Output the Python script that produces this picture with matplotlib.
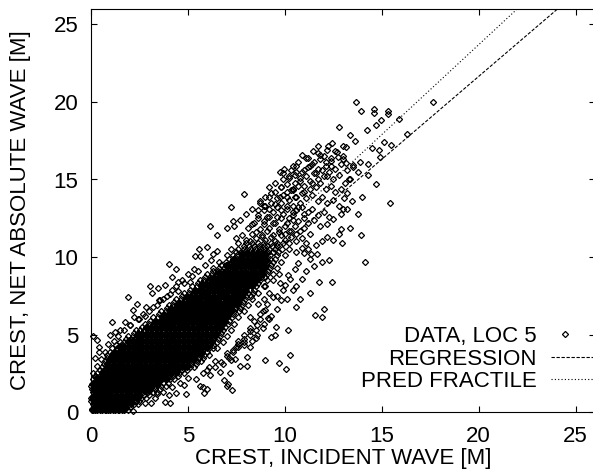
import matplotlib
matplotlib.use("Agg")
import matplotlib.pyplot as plt

plt.rcParams['font.family'] = ['Liberation Sans', 'DejaVu Sans']

# dense core of the cloud
core_y = [0.1, 0.5, 0.9, 1.3, 1.7, 2.1, 2.5, 2.9, 3.3, 3.7, 4.1, 4.5, 4.9, 5.3,
          5.7, 6.1, 6.5, 6.9, 7.3, 7.7, 8.1, 8.5, 8.9, 9.3, 9.7, 10.1, 10.5, 10.9]
core_x = [
    [0.05, 0.2, 0.45, 0.7, 0.9, 1.15, 1.4, 1.6, 1.9],
    [0.1, 0.3, 0.5, 0.75, 1.0, 1.2, 1.45, 1.7, 1.95, 2.2, 2.4],
    [0.0, 0.25, 0.5, 0.7, 0.95, 1.2, 1.4, 1.65, 1.9, 2.1, 2.35, 2.6, 2.85],
    [0.1, 0.35, 0.55, 0.8, 1.05, 1.25, 1.5, 1.75, 1.95, 2.2, 2.45, 2.7, 2.95, 3.2, 3.4],
    [0.0, 0.25, 0.45, 0.7, 0.95, 1.2, 1.4, 1.65, 1.9, 2.15, 2.35, 2.6, 2.85, 3.1, 3.3, 3.6, 3.85],
    [0.1, 0.35, 0.6, 0.8, 1.05, 1.3, 1.5, 1.75, 2.0, 2.25, 2.45, 2.7, 2.95, 3.2, 3.4, 3.65, 3.9, 4.1, 4.3],
    [0.3, 0.55, 0.75, 1.0, 1.25, 1.45, 1.7, 1.95, 2.2, 2.4, 2.65, 2.9, 3.15, 3.35, 3.6, 3.85, 4.1, 4.3, 4.55, 4.8],
    [0.55, 0.8, 1.05, 1.3, 1.5, 1.75, 2.0, 2.25, 2.45, 2.7, 2.95, 3.2, 3.4, 3.65, 3.9, 4.15, 4.35, 4.6, 4.85, 5.1, 5.3],
    [0.7, 0.95, 1.2, 1.4, 1.65, 1.9, 2.15, 2.35, 2.6, 2.85, 3.1, 3.3, 3.55, 3.8, 4.05, 4.25, 4.5, 4.75, 5.0, 5.2, 5.45, 5.7],
    [0.85, 1.1, 1.35, 1.55, 1.8, 2.05, 2.3, 2.5, 2.75, 3.0, 3.25, 3.45, 3.7, 3.95, 4.2, 4.4, 4.65, 4.9, 5.15, 5.35, 5.6, 5.85, 6.1],
    [1.1, 1.35, 1.6, 1.8, 2.05, 2.3, 2.55, 2.75, 3.0, 3.25, 3.5, 3.7, 3.95, 4.2, 4.45, 4.65, 4.9, 5.15, 5.4, 5.6, 5.85, 6.1, 6.3, 6.5],
    [1.5, 1.7, 1.95, 2.2, 2.45, 2.65, 2.9, 3.15, 3.4, 3.6, 3.85, 4.1, 4.35, 4.55, 4.8, 5.05, 5.3, 5.5, 5.75, 6.0, 6.25, 6.5, 6.8],
    [1.9, 2.15, 2.35, 2.6, 2.85, 3.1, 3.3, 3.55, 3.8, 4.05, 4.25, 4.5, 4.75, 5.0, 5.2, 5.45, 5.7, 5.95, 6.15, 6.4, 6.65, 7.0],
    [2.3, 2.55, 2.75, 3.0, 3.25, 3.5, 3.7, 3.95, 4.2, 4.45, 4.65, 4.9, 5.15, 5.4, 5.6, 5.85, 6.1, 6.35, 6.55, 6.8, 7.2],
    [2.8, 3.0, 3.25, 3.5, 3.75, 3.95, 4.2, 4.45, 4.7, 4.9, 5.15, 5.4, 5.65, 5.85, 6.1, 6.35, 6.6, 6.8, 7.05, 7.4],
    [3.2, 3.45, 3.65, 3.9, 4.15, 4.4, 4.6, 4.85, 5.1, 5.35, 5.55, 5.8, 6.05, 6.3, 6.5, 6.75, 7.0, 7.25, 7.6],
    [3.6, 3.85, 4.05, 4.3, 4.55, 4.8, 5.0, 5.25, 5.5, 5.75, 5.95, 6.2, 6.45, 6.7, 6.9, 7.15, 7.4, 7.65, 7.9],
    [4.0, 4.25, 4.5, 4.7, 4.95, 5.2, 5.45, 5.65, 5.9, 6.15, 6.4, 6.6, 6.85, 7.1, 7.35, 7.55, 7.8, 8.1],
    [4.4, 4.65, 4.85, 5.1, 5.35, 5.6, 5.8, 6.05, 6.3, 6.55, 6.75, 7.0, 7.25, 7.5, 7.7, 7.95, 8.3],
    [4.8, 5.05, 5.25, 5.5, 5.75, 6.0, 6.2, 6.45, 6.7, 6.95, 7.15, 7.4, 7.65, 7.9, 8.1, 8.35, 8.6],
    [5.2, 5.45, 5.65, 5.9, 6.15, 6.4, 6.6, 6.85, 7.1, 7.35, 7.55, 7.8, 8.05, 8.3, 8.5, 8.9],
    [5.6, 5.85, 6.05, 6.3, 6.55, 6.8, 7.0, 7.25, 7.5, 7.75, 7.95, 8.2, 8.45, 8.7, 9.1],
    [6.0, 6.25, 6.45, 6.7, 6.95, 7.2, 7.4, 7.65, 7.9, 8.15, 8.35, 8.6, 8.85, 9.1, 9.4],
    [6.3, 6.6, 6.85, 7.05, 7.3, 7.55, 7.8, 8.0, 8.25, 8.5, 8.75, 8.95, 9.25, 9.6],
    [6.6, 6.95, 7.2, 7.4, 7.65, 7.9, 8.15, 8.35, 8.6, 8.85, 9.1, 9.4, 9.8],
    [7.0, 7.3, 7.55, 7.8, 8.05, 8.3, 8.5, 8.75, 9.0, 9.25, 9.6, 10.0],
    [7.2, 7.6, 7.9, 8.2, 8.45, 8.7, 8.95, 9.2, 9.5, 9.85, 10.2],
    [7.6, 8.0, 8.3, 8.6, 8.95, 9.3, 9.6, 9.9, 10.2],
]

# same core, the rows in between
core2_y = [0.3, 0.7, 1.1, 1.5, 1.9, 2.3, 2.7, 3.1, 3.5, 3.9, 4.3, 4.7, 5.1, 5.5,
           5.9, 6.3, 6.7, 7.1, 7.5, 7.9, 8.3, 8.7, 9.1, 9.5, 9.9, 10.3, 10.7]
core2_x = [
    [0.15, 0.35, 0.6, 0.8, 1.05, 1.3, 1.5, 1.75, 2.0],
    [0.0, 0.2, 0.4, 0.65, 0.85, 1.1, 1.35, 1.55, 1.8, 2.05, 2.3, 2.5],
    [0.15, 0.4, 0.6, 0.85, 1.1, 1.3, 1.55, 1.8, 2.0, 2.25, 2.5, 2.75, 3.0],
    [0.05, 0.25, 0.45, 0.7, 0.95, 1.15, 1.4, 1.65, 1.85, 2.1, 2.35, 2.6, 2.8, 3.05, 3.3, 3.55],
    [0.15, 0.35, 0.6, 0.85, 1.05, 1.3, 1.55, 1.8, 2.0, 2.25, 2.5, 2.75, 2.95, 3.2, 3.45, 3.7, 3.95],
    [0.2, 0.45, 0.7, 0.95, 1.15, 1.4, 1.65, 1.9, 2.1, 2.35, 2.6, 2.85, 3.05, 3.3, 3.55, 3.8, 4.0, 4.25, 4.5],
    [0.45, 0.65, 0.9, 1.15, 1.4, 1.6, 1.85, 2.1, 2.35, 2.55, 2.8, 3.05, 3.3, 3.5, 3.75, 4.0, 4.25, 4.45, 4.7, 4.95],
    [0.65, 0.85, 1.1, 1.35, 1.6, 1.8, 2.05, 2.3, 2.55, 2.75, 3.0, 3.25, 3.5, 3.7, 3.95, 4.2, 4.45, 4.65, 4.9, 5.15, 5.4],
    [0.8, 1.05, 1.3, 1.5, 1.75, 2.0, 2.25, 2.45, 2.7, 2.95, 3.2, 3.4, 3.65, 3.9, 4.15, 4.35, 4.6, 4.85, 5.1, 5.3, 5.55, 5.8],
    [1.0, 1.25, 1.45, 1.7, 1.95, 2.2, 2.4, 2.65, 2.9, 3.15, 3.35, 3.6, 3.85, 4.1, 4.3, 4.55, 4.8, 5.05, 5.25, 5.5, 5.75, 6.0],
    [1.3, 1.55, 1.75, 2.0, 2.25, 2.5, 2.7, 2.95, 3.2, 3.45, 3.65, 3.9, 4.15, 4.4, 4.6, 4.85, 5.1, 5.35, 5.55, 5.8, 6.05, 6.3],
    [1.8, 2.05, 2.25, 2.5, 2.75, 3.0, 3.2, 3.45, 3.7, 3.95, 4.15, 4.4, 4.65, 4.9, 5.1, 5.35, 5.6, 5.85, 6.05, 6.3, 6.55],
    [2.2, 2.45, 2.65, 2.9, 3.15, 3.4, 3.6, 3.85, 4.1, 4.35, 4.55, 4.8, 5.05, 5.3, 5.5, 5.75, 6.0, 6.25, 6.45, 6.7],
    [2.65, 2.85, 3.1, 3.35, 3.6, 3.8, 4.05, 4.3, 4.55, 4.75, 5.0, 5.25, 5.5, 5.7, 5.95, 6.2, 6.45, 6.65, 6.9],
    [3.05, 3.3, 3.55, 3.75, 4.0, 4.25, 4.5, 4.7, 4.95, 5.2, 5.45, 5.65, 5.9, 6.15, 6.4, 6.6, 6.85, 7.1],
    [3.5, 3.75, 3.95, 4.2, 4.45, 4.7, 4.9, 5.15, 5.4, 5.65, 5.85, 6.1, 6.35, 6.6, 6.8, 7.05, 7.3],
    [3.9, 4.15, 4.35, 4.6, 4.85, 5.1, 5.3, 5.55, 5.8, 6.05, 6.25, 6.5, 6.75, 7.0, 7.2, 7.45, 7.7],
    [4.3, 4.55, 4.75, 5.0, 5.25, 5.5, 5.7, 5.95, 6.2, 6.45, 6.65, 6.9, 7.15, 7.4, 7.6, 7.85],
    [4.7, 4.95, 5.15, 5.4, 5.65, 5.9, 6.1, 6.35, 6.6, 6.85, 7.05, 7.3, 7.55, 7.8, 8.0, 8.25],
    [5.1, 5.35, 5.55, 5.8, 6.05, 6.3, 6.5, 6.75, 7.0, 7.25, 7.45, 7.7, 7.95, 8.2, 8.4],
    [5.5, 5.75, 5.95, 6.2, 6.45, 6.7, 6.9, 7.15, 7.4, 7.65, 7.85, 8.1, 8.35, 8.6],
    [5.9, 6.15, 6.35, 6.6, 6.85, 7.1, 7.3, 7.55, 7.8, 8.05, 8.25, 8.5, 8.75, 9.0],
    [6.3, 6.55, 6.75, 7.0, 7.25, 7.5, 7.7, 7.95, 8.2, 8.45, 8.65, 8.9, 9.15],
    [6.7, 6.95, 7.15, 7.4, 7.65, 7.9, 8.1, 8.35, 8.6, 8.85, 9.05, 9.3],
    [7.1, 7.35, 7.55, 7.8, 8.05, 8.3, 8.5, 8.75, 9.0, 9.25, 9.5],
    [7.5, 7.75, 7.95, 8.2, 8.45, 8.7, 8.9, 9.15, 9.4, 9.65],
    [7.9, 8.15, 8.4, 8.65, 8.9, 9.1, 9.35, 9.6],
]

# black middle of the core, more rows
core3_y = [0.2, 0.6, 1.0, 1.4, 1.8, 2.2, 2.6, 3.0, 3.4, 3.8, 4.2, 4.6, 5.0, 5.4,
           5.8, 6.2, 6.6, 7.0, 7.4, 7.8, 8.2, 8.6, 9.0, 9.4, 9.8, 10.2]
core3_x = [
    [0.1, 0.3, 0.55, 0.75, 1.0, 1.25, 1.45, 1.7],
    [0.2, 0.4, 0.6, 0.9, 1.1, 1.3, 1.6, 1.8, 2.05],
    [0.1, 0.3, 0.6, 0.8, 1.05, 1.3, 1.5, 1.75, 2.0, 2.2, 2.45],
    [0.2, 0.45, 0.65, 0.9, 1.1, 1.35, 1.6, 1.85, 2.05, 2.3, 2.55, 2.8, 3.0],
    [0.1, 0.35, 0.55, 0.75, 1.0, 1.25, 1.5, 1.7, 1.95, 2.2, 2.45, 2.65, 2.9, 3.15, 3.4],
    [0.3, 0.5, 0.75, 1.0, 1.2, 1.45, 1.7, 1.95, 2.15, 2.4, 2.65, 2.9, 3.1, 3.35, 3.6, 3.85],
    [0.6, 0.85, 1.1, 1.3, 1.55, 1.8, 2.05, 2.25, 2.5, 2.75, 3.0, 3.2, 3.45, 3.7, 3.95, 4.15, 4.4],
    [0.9, 1.15, 1.4, 1.6, 1.85, 2.1, 2.35, 2.55, 2.8, 3.05, 3.3, 3.5, 3.75, 4.0, 4.25, 4.45, 4.7, 4.95],
    [1.0, 1.25, 1.45, 1.7, 1.95, 2.2, 2.4, 2.65, 2.9, 3.15, 3.35, 3.6, 3.85, 4.1, 4.3, 4.55, 4.8, 5.05, 5.3],
    [1.2, 1.45, 1.65, 1.9, 2.15, 2.4, 2.6, 2.85, 3.1, 3.35, 3.55, 3.8, 4.05, 4.3, 4.5, 4.75, 5.0, 5.25, 5.45, 5.7],
    [1.5, 1.7, 1.95, 2.2, 2.45, 2.65, 2.9, 3.15, 3.4, 3.6, 3.85, 4.1, 4.35, 4.55, 4.8, 5.05, 5.3, 5.5, 5.75, 6.0],
    [1.95, 2.15, 2.4, 2.65, 2.9, 3.1, 3.35, 3.6, 3.85, 4.05, 4.3, 4.55, 4.8, 5.0, 5.25, 5.5, 5.75, 5.95, 6.2],
    [2.4, 2.6, 2.85, 3.1, 3.35, 3.55, 3.8, 4.05, 4.3, 4.5, 4.75, 5.0, 5.25, 5.45, 5.7, 5.95, 6.2, 6.4],
    [2.9, 3.1, 3.35, 3.6, 3.85, 4.05, 4.3, 4.55, 4.8, 5.0, 5.25, 5.5, 5.75, 5.95, 6.2, 6.45, 6.65],
    [3.3, 3.55, 3.75, 4.0, 4.25, 4.5, 4.7, 4.95, 5.2, 5.45, 5.65, 5.9, 6.15, 6.4, 6.6, 6.85],
    [3.7, 3.95, 4.15, 4.4, 4.65, 4.9, 5.1, 5.35, 5.6, 5.85, 6.05, 6.3, 6.55, 6.8, 7.0],
    [4.1, 4.35, 4.55, 4.8, 5.05, 5.3, 5.5, 5.75, 6.0, 6.25, 6.45, 6.7, 6.95, 7.2],
    [4.5, 4.75, 4.95, 5.2, 5.45, 5.7, 5.9, 6.15, 6.4, 6.65, 6.85, 7.1, 7.35, 7.55],
    [4.95, 5.15, 5.4, 5.65, 5.9, 6.1, 6.35, 6.6, 6.85, 7.05, 7.3, 7.55, 7.75],
    [5.35, 5.6, 5.8, 6.05, 6.3, 6.55, 6.75, 7.0, 7.25, 7.5, 7.7, 7.95],
    [5.75, 6.0, 6.2, 6.45, 6.7, 6.95, 7.15, 7.4, 7.65, 7.9, 8.1, 8.3],
    [6.2, 6.4, 6.65, 6.9, 7.15, 7.35, 7.6, 7.85, 8.1, 8.3, 8.55],
    [6.6, 6.85, 7.05, 7.3, 7.55, 7.8, 8.0, 8.25, 8.5, 8.75],
    [7.0, 7.25, 7.45, 7.7, 7.95, 8.2, 8.4, 8.65, 8.9],
    [7.4, 7.65, 7.85, 8.1, 8.35, 8.6, 8.8, 9.05],
    [7.8, 8.05, 8.3, 8.55, 8.75, 9.0],
]

# scattered points around the core
edge_x = [0.12, 0.33, 0.41, 1.07, 0.98, 1.24, 1.5, 1.75, 1.92, 2.18, 2.39, 2.23, 2.85,
          4.0, 4.36, 3.8, 3.03, 3.46, 3.17, 3.56, 4.2, 4.2, 4.5, 5.57, 6.0, 5.36, 6.3, 5.62, 5.3, 5.1,
          2.18, 2.78, 3.1, 3.4, 3.81, 4.07, 4.0, 4.4, 4.9, 4.8, 5.79, 5.83, 6.0, 5.6, 6.14, 5.96,
          6.65, 7.17, 6.85, 7.07, 7.25, 7.0, 7.42, 7.68, 8.07, 8.03, 7.2, 7.0, 7.5,
          9.0, 9.7, 10.05, 10.26, 10.17, 9.27, 9.5, 9.53, 8.88, 8.28, 8.54, 8.2, 8.54, 9.11, 9.57,
          8.85, 9.4, 9.8, 10.1, 10.58, 8.2, 9.1, 9.75, 10.17, 10.6, 10.4, 10.25,
          11.55, 11.91, 12.0, 11.32, 11.75, 12.42, 10.8, 10.9, 11.94, 12.29, 11.68, 11.36, 10.98,
          12.97, 14.16, 10.5, 10.7, 11.1, 11.3, 11.5, 10.6, 10.9, 11.2, 11.6, 11.9, 12.2, 12.5, 12.8,
          0.1, 0.3, 0.2, 0.5, 0.7, 0.4, 0.9, 1.2, 1.4, 1.7, 2.0, 2.5, 2.8, 3.2, 3.5, 3.9, 4.4, 4.7, 5.0,
          8.7, 9.0, 9.3, 8.6, 8.9, 9.2, 9.6, 9.9, 10.0, 9.0, 9.4, 9.7, 8.4, 8.7, 7.9, 8.2, 7.6, 7.9,
          2.0, 2.4, 2.7, 3.0, 3.4, 3.7, 4.1, 4.5, 4.8, 5.2, 5.5, 5.9, 6.2, 6.5,
          3.3, 3.7, 4.2, 4.6, 5.0, 5.4, 5.8, 6.1, 6.4, 6.8, 7.1, 7.3, 7.6, 7.9, 8.2, 8.5,
          6.4, 6.7, 7.0, 7.3, 7.6, 7.9, 8.2, 8.5, 8.9, 9.2]
edge_y = [4.92, 4.64, 3.9, 5.83, 5.0, 5.18, 5.29, 5.78, 7.44, 6.58, 7.0, 6.1, 6.8,
          9.55, 9.2, 8.2, 8.1, 8.0, 7.7, 7.2, 8.7, 7.9, 8.4, 10.5, 10.66, 10.06, 10.2, 10.06, 9.2, 8.4,
          0.09, 0.56, 0.56, 1.14, 0.62, 0.56, 1.1, 1.2, 1.15, 1.74, 1.63, 1.25, 1.5, 1.68, 2.4, 2.7,
          2.6, 2.5, 2.07, 1.8, 1.4, 1.65, 3.45, 3.0, 3.0, 3.55, 3.35, 3.8, 4.2,
          3.35, 3.15, 2.75, 3.7, 5.3, 4.85, 5.0, 5.5, 5.45, 4.55, 4.95, 5.4, 5.6, 6.05, 6.65,
          6.5, 7.44, 7.2, 7.3, 6.8, 6.15, 7.0, 8.3, 8.85, 8.1, 7.9, 8.6,
          6.26, 6.1, 6.64, 7.7, 8.36, 8.41, 7.27, 8.56, 9.68, 9.83, 10.17, 10.22, 10.23,
          10.92, 9.68, 9.2, 9.6, 9.1, 9.9, 9.4, 10.3, 10.6, 10.5, 10.8, 11.0, 11.3, 11.1, 11.5,
          2.5, 3.0, 3.5, 3.4, 3.9, 4.2, 4.4, 4.6, 4.9, 5.3, 5.6, 6.0, 6.2, 6.8, 7.2, 7.5, 8.1, 8.5, 8.9,
          6.3, 6.6, 6.2, 7.0, 7.3, 7.7, 7.5, 7.9, 8.2, 8.1, 8.5, 8.9, 5.9, 6.0, 5.0, 5.2, 4.6, 4.3,
          5.6, 6.0, 6.3, 6.5, 6.9, 7.3, 7.6, 7.8, 8.3, 8.8, 9.1, 9.5, 9.8, 10.4,
          0.9, 1.3, 1.6, 1.9, 2.2, 2.1, 2.5, 2.9, 3.3, 3.1, 3.5, 4.0, 4.4, 4.7, 4.2, 4.8,
          2.9, 3.2, 3.6, 3.9, 4.2, 4.5, 5.0, 5.3, 5.7, 6.0]

# upper arm of the cloud
arm_x = [6.13, 6.5, 7.0, 7.3, 7.9, 7.2, 8.7, 9.2, 9.75, 10.1, 10.4, 9.74, 9.95, 10.3, 10.55,
         7.5, 7.8, 8.0, 8.3, 8.5, 8.8, 9.0, 9.3, 9.5, 9.8, 10.0, 10.3, 10.6, 10.9, 11.1,
         7.4, 7.7, 8.1, 8.4, 8.7, 8.9, 9.2, 9.4, 9.7, 10.0, 10.2, 10.5, 10.8, 11.0, 11.3,
         8.0, 8.3, 8.6, 8.9, 9.1, 9.4, 9.6, 9.9, 10.2, 10.4, 10.7, 11.0, 11.2, 11.5, 11.8,
         8.7, 9.0, 9.3, 9.6, 9.8, 10.1, 10.4, 10.6, 10.9, 11.2, 11.4, 11.7, 12.0, 12.3,
         9.2, 9.5, 9.8, 10.1, 10.3, 10.6, 10.9, 11.1, 11.4, 11.7, 11.9, 12.2, 12.5, 12.8,
         9.9, 10.2, 10.5, 10.8, 11.0, 11.3, 11.6, 11.8, 12.1, 12.4, 12.6, 12.9, 13.2,
         10.6, 10.9, 11.2, 11.5, 11.7, 12.0, 12.3, 12.5, 12.8, 13.1, 13.3,
         11.1, 11.4, 11.8, 12.1, 12.4, 12.6, 12.9, 13.2, 13.5,
         11.7, 12.0, 12.2, 12.4, 12.7, 13.0,
         8.2, 8.5, 8.8, 9.1, 9.4, 9.7, 10.0, 10.3, 10.6, 8.3, 8.6, 8.9, 9.2, 9.5, 9.8, 10.1, 10.4,
         8.6, 8.9, 9.2, 9.5, 9.8, 10.1, 10.4, 10.7, 11.0, 9.0, 9.3, 9.6, 9.9, 10.2, 10.5, 10.8,
         9.5, 9.8, 10.1, 10.4, 10.7, 11.0, 11.3, 9.9, 10.2, 10.5, 10.8, 11.1, 11.4, 11.7,
         10.4, 10.7, 11.0, 11.3, 11.6, 11.9, 12.2, 10.9, 11.2, 11.5, 11.8, 12.1, 12.4]
arm_y = [12.0, 11.4, 11.9, 12.3, 14.06, 13.2, 13.5, 13.85, 13.85, 14.2, 14.4, 15.5, 15.65, 15.6, 15.5,
         11.2, 11.4, 11.1, 11.5, 11.2, 11.4, 11.1, 11.3, 11.0, 11.4, 11.1, 11.3, 11.0, 11.2, 10.9,
         12.0, 12.4, 11.9, 12.2, 11.8, 12.1, 11.9, 12.2, 11.8, 12.0, 11.7, 12.0, 11.7, 11.9, 11.5,
         12.8, 13.1, 12.7, 13.0, 12.6, 12.9, 12.6, 12.8, 12.5, 12.7, 12.3, 12.5, 12.2, 12.4, 12.0,
         13.6, 13.3, 13.5, 13.2, 13.5, 13.1, 13.3, 13.0, 13.2, 12.9, 13.1, 12.7, 12.9, 12.6,
         14.5, 14.2, 14.5, 13.9, 14.3, 13.9, 14.1, 13.8, 14.0, 13.6, 13.9, 13.5, 13.7, 13.3,
         15.0, 15.2, 14.8, 15.1, 14.6, 14.9, 14.5, 14.8, 14.4, 14.6, 14.2, 14.4, 14.1,
         15.9, 15.5, 15.8, 15.4, 15.7, 15.2, 15.5, 15.0, 15.3, 14.8, 15.0,
         16.4, 16.0, 16.3, 15.9, 16.2, 15.7, 16.0, 15.6, 15.8,
         16.7, 16.5, 16.9, 16.4, 16.8, 16.3,
         11.0, 11.6, 11.3, 11.7, 11.4, 11.6, 11.5, 11.7, 11.5, 12.1, 12.5, 12.3, 12.6, 12.2, 12.5, 12.2, 12.4,
         13.0, 13.3, 13.1, 13.4, 13.0, 13.3, 12.9, 13.2, 12.8, 13.9, 14.1, 13.8, 14.0, 13.7, 13.9, 13.5,
         14.8, 14.5, 14.7, 14.3, 14.6, 14.2, 14.4, 15.4, 15.1, 15.3, 14.9, 15.2, 14.8, 15.0,
         15.9, 16.1, 15.6, 15.9, 15.4, 15.6, 15.2, 16.6, 16.4, 16.1, 16.6, 16.1, 15.9]

# the last few points at the top end, read one by one
top_x = [13.66, 13.95, 14.59, 14.59, 15.34, 15.31, 15.89, 14.98, 14.72, 14.24, 12.78, 13.35,
         13.61, 17.64, 16.32, 15.1, 15.48, 14.5, 14.86, 14.9, 14.3, 14.28, 14.71, 13.98, 15.41,
         13.76, 13.35, 12.92, 13.94, 13.44, 13.23, 13.0, 12.9, 12.5, 12.2, 11.7, 11.46, 12.23,
         12.42, 12.6, 12.98, 13.15, 12.75, 13.0, 13.18, 13.9, 13.5, 13.78, 13.35, 13.05]
top_y = [20.02, 19.44, 19.57, 19.31, 19.44, 19.22, 18.92, 18.82, 18.49, 18.19, 18.39, 17.89,
         17.48, 20.02, 17.93, 17.4, 17.25, 17.01, 16.9, 16.45, 16.02, 15.29, 14.71, 13.87, 13.46,
         12.77, 11.89, 11.79, 11.4, 13.6, 13.1, 13.1, 12.8, 12.45, 12.1, 17.18, 16.87, 17.18,
         17.37, 16.87, 17.18, 17.07, 16.45, 16.5, 16.05, 16.1, 15.95, 15.5, 15.0, 13.8]

# fitted lines
reg_x = [0, 25]
reg_y = [0.26, 27.0]
frac_x = [0, 25]
frac_y = [0.49, 29.5]

x_ticks = [0, 5, 10, 15, 20, 25]
y_ticks = [0, 5, 10, 15, 20, 25]
key_labels = ['DATA, LOC 5', 'REGRESSION', 'PRED FRACTILE']

outer_x = ([x for row in core_x for x in row] + [x for row in core2_x for x in row]
           + edge_x + arm_x + top_x)
outer_y = ([y for y, row in zip(core_y, core_x) for x in row]
           + [y for y, row in zip(core2_y, core2_x) for x in row]
           + edge_y + arm_y + top_y)
inner_x = [x for row in core3_x for x in row]
inner_y = [y for y, row in zip(core3_y, core3_x) for x in row]

fig = plt.figure(figsize=(5.93, 4.73), dpi=100)
ax = fig.add_axes([91 / 593, 61 / 473, 504 / 593, 403 / 473])

marker_style = dict(linestyle='none', marker='D', markersize=3.1, markerfacecolor='none',
                    markeredgecolor='black', markeredgewidth=0.9)
ax.plot(outer_x, outer_y, clip_on=False, zorder=3, **marker_style)
# overplotted points go solid in the reference, so the inner ones are drawn filled
ax.plot(inner_x, inner_y, linestyle='none', marker='D', markersize=4.2, color='black',
        clip_on=False, zorder=3)
ax.plot(reg_x, reg_y, color='black', linewidth=0.8, dashes=(3, 1.5))
ax.plot(frac_x, frac_y, color='black', linewidth=0.8, dashes=(1, 2))

ax.set_xlim(0, 26)
ax.set_ylim(0, 26)
ax.set_xticks(x_ticks)
ax.set_yticks(y_ticks)
ax.tick_params(direction='in', length=4, width=0.8, top=True, right=True, labelsize=16)
ax.tick_params(axis='x', pad=10)
ax.tick_params(axis='y', pad=9)
ax.set_xlabel('CREST, INCIDENT WAVE [M]', fontsize=16, labelpad=1)
ax.set_ylabel('CREST, NET ABSOLUTE WAVE [M]', fontsize=16, labelpad=16)

# key drawn by hand, the marker sits left of the middle of the line samples
for label, py in zip(key_labels, [342, 364.5, 387]):
    ax.text(537, 473 - py, label, transform=None, ha='right', va='baseline', fontsize=16)
ax.plot([564.7], [473 - 334], transform=None, clip_on=False, **marker_style)
ax.plot([551, 593], [473 - 356.5, 473 - 356.5], transform=None, clip_on=False,
        color='black', linewidth=0.8, dashes=(3, 1.5))
ax.plot([551, 593], [473 - 379, 473 - 379], transform=None, clip_on=False,
        color='black', linewidth=0.8, dashes=(1, 2))

fig.savefig('out.png', dpi=100)
